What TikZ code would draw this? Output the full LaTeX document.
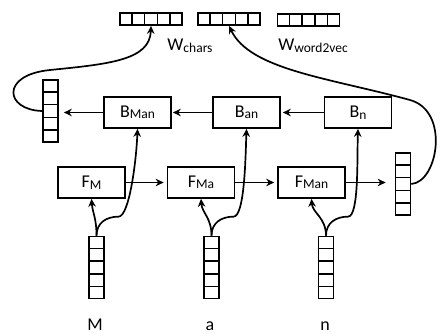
\documentclass[tikz,border=0pt]{standalone}
\usepackage{fontspec}
\setmainfont{Carlito}
\usetikzlibrary{arrows.meta,calc}
\newcommand\sbs[1]{\raisebox{-1.5pt}{\fontsize{13.5}{13.5}\selectfont #1}}
\newcommand\vcells[1]{\foreach \i in {1,...,4} {\draw ($(#1.north west)!\i/5!(#1.south west)$) -- ($(#1.north east)!\i/5!(#1.south east)$);}}
\newcommand\hcells[1]{\foreach \i in {1,...,4} {\draw ($(#1.north west)!\i/5!(#1.north east)$) -- ($(#1.south west)!\i/5!(#1.south east)$);}}
\begin{document}
\begin{tikzpicture}[x=1pt,y=-1pt,line width=1.7pt,
  box/.style={draw, minimum width=67pt, minimum height=31pt, inner sep=0pt, font=\fontsize{18}{18}\selectfont},
  vvec/.style={draw, minimum width=15pt, minimum height=62pt, inner sep=0pt},
  hvec/.style={draw, minimum width=62pt, minimum height=12pt, inner sep=0pt},
  arr/.style={-{Stealth[length=8pt,width=7.5pt]}},
  lab/.style={font=\fontsize{18}{18}\selectfont, inner sep=0pt}]
\useasboundingbox (0,0) rectangle (441,334);
% top vectors
\node[hvec] (v1) at (151,19) {};
\node[hvec] (v2) at (229,19) {};
\node[hvec] (v3) at (308.5,20) {};
\hcells{v1}\hcells{v2}\hcells{v3}
\node[lab] (wc) at (190,46) {W\sbs{chars}};
\node[lab] (ww) at (313,46) {W\sbs{word2vec}};
% side vectors
\node[vvec] (lv) at (50.5,111) {};
\node[vvec] (rv) at (403,184) {};
\vcells{lv}\vcells{rv}
% B boxes
\node[box] (bm) at (137.5,112.5) {B\sbs{Man}};
\node[box] (ban) at (246.5,112.5) {B\sbs{an}};
\node[box] (bn) at (358,112.5) {B\sbs{n}};
% F boxes
\node[box] (fm) at (91.5,182.5) {F\sbs{M}};
\node[box] (fma) at (201,182.5) {F\sbs{Ma}};
\node[box] (fman) at (311.5,182.5) {F\sbs{Man}};
% bottom vectors
\node[vvec] (mv) at (96.5,267.5) {};
\node[vvec] (av) at (211.5,267.5) {};
\node[vvec] (nv) at (326,267.5) {};
\vcells{mv}\vcells{av}\vcells{nv}
\node[lab,anchor=base] (lm) at (95,330) {M};
\node[lab,anchor=base] (la) at (210,330) {a};
\node[lab,anchor=base] (ln) at (325,330) {n};
% horizontal arrows
\draw[arr,shorten >=5pt] (bm.west) -- (lv.east |- bm.west);
\draw[arr,shorten >=1pt] (ban.west) -- (bm.east);
\draw[arr,shorten >=2pt] (bn.west) -- (ban.east);
\draw[arr,shorten >=3pt] (fm.east) -- (fma.west);
\draw[arr,shorten >=3pt] (fma.east) -- (fman.west);
\draw[arr,shorten >=9pt] (fman.east) -- (rv.west |- fman.east);
% bottom curves
\foreach \v/\f/\b in {mv/fm/bm, av/fma/ban, nv/fman/bn} {
  \draw[arr] (\v.north) .. controls +(0,-18) and +(1,14) .. (\f.south);
  \draw[arr] (\v.north) .. controls +(0,-13) and +(-12,0) .. ++(22,-19) .. controls +(11,0) and +(-1,30) .. (\b.south);
}
% long curves
\draw[arr] (lv.west) .. controls (5,110) and (0,75) .. (50,70) .. controls (110,64) and (150,60) .. (v1.south);
\draw[arr] (rv.east) .. controls (438,182) and (450,111) .. (410,100) .. controls (330,78) and (250,70) .. (v2.south);
\end{tikzpicture}
\end{document}
